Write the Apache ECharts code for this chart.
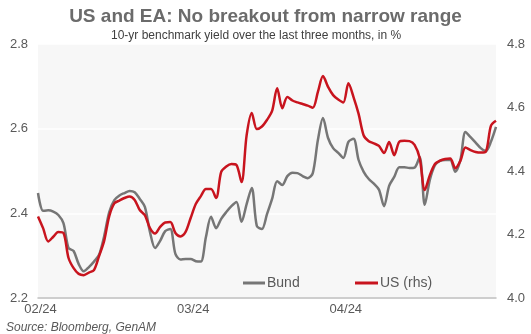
<!DOCTYPE html>
<html>
<head>
<meta charset="utf-8">
<script src="https://cdn.jsdelivr.net/npm/echarts@6/dist/echarts.min.js"></script>
<style>html,body{margin:0;padding:0;background:#fff;}#c{width:531px;height:334px;}</style>
</head>
<body>
<div id="c"></div>
<script>
// 91 daily observations, roughly Feb 1 to May 1 2024
const tickIndex = [0, 30, 60];
const tickLabels = ['02/24', '03/24', '04/24'];
const bund = [
  2.448, 2.406, 2.407, 2.404, 2.396, 2.377, 2.318, 2.311, 2.280, 2.263,
  2.273, 2.286, 2.302, 2.346, 2.403, 2.431, 2.442, 2.448, 2.453, 2.450,
  2.434, 2.415, 2.356, 2.318, 2.335, 2.358, 2.363, 2.304, 2.291, 2.292,
  2.292, 2.287, 2.286, 2.344, 2.392, 2.365, 2.387, 2.403, 2.417, 2.427,
  2.380, 2.422, 2.460, 2.370, 2.363, 2.398, 2.434, 2.476, 2.467, 2.488,
  2.496, 2.495, 2.488, 2.483, 2.495, 2.573, 2.625, 2.578, 2.554, 2.543,
  2.531, 2.569, 2.576, 2.526, 2.498, 2.481, 2.470, 2.456, 2.417, 2.465,
  2.486, 2.509, 2.509, 2.507, 2.508, 2.533, 2.420, 2.479, 2.514, 2.524,
  2.526, 2.526, 2.498, 2.526, 2.592, 2.580, 2.567, 2.554, 2.547, 2.569,
  2.604
];
const us = [
  4.257, 4.220, 4.178, 4.193, 4.208, 4.205, 4.126, 4.094, 4.076, 4.072,
  4.080, 4.088, 4.132, 4.180, 4.258, 4.298, 4.307, 4.315, 4.320, 4.309,
  4.277, 4.261, 4.220, 4.203, 4.224, 4.238, 4.239, 4.205, 4.194, 4.208,
  4.252, 4.296, 4.321, 4.343, 4.343, 4.315, 4.397, 4.414, 4.422, 4.419,
  4.365, 4.513, 4.583, 4.532, 4.540, 4.561, 4.589, 4.661, 4.598, 4.633,
  4.622, 4.616, 4.611, 4.606, 4.599, 4.649, 4.699, 4.665, 4.639, 4.625,
  4.616, 4.676, 4.633, 4.580, 4.512, 4.494, 4.487, 4.479, 4.457, 4.491,
  4.450, 4.492, 4.495, 4.494, 4.482, 4.441, 4.340, 4.387, 4.422, 4.433,
  4.438, 4.439, 4.409, 4.432, 4.474, 4.466, 4.460, 4.458, 4.461, 4.542,
  4.558
];
const categories = bund.map((_, i) => 'd' + i);
const labelMap = {};
tickIndex.forEach((k, j) => { labelMap[k] = tickLabels[j]; });

const chart = echarts.init(document.getElementById('c'), null, {renderer: 'canvas'});
const font = '"Liberation Sans", Arial, sans-serif';
const legendText = {fontFamily: font, fontSize: 14, color: '#595959', padding: [0, 0, 0, -3]};
chart.setOption({
  animation: false,
  backgroundColor: '#ffffff',
  title: [
    {text: 'US and EA: No breakout from narrow range', left: 'center', top: 2,
     textStyle: {fontFamily: font, fontSize: 19, fontWeight: 'bold', color: '#6b6b6b'}},
    {text: '10-yr benchmark yield over the last three months, in %', left: 106, top: 25,
     textStyle: {fontFamily: font, fontSize: 12, fontWeight: 'normal', color: '#404040'}},
    {text: 'Source: Bloomberg, GenAM', left: 1, top: 317,
     textStyle: {fontFamily: font, fontSize: 12, fontWeight: 'normal', fontStyle: 'italic', color: '#595959'}}
  ],
  legend: [
    {left: 243, top: 276, padding: 0, itemWidth: 22, itemHeight: 3, icon: 'rect',
     textStyle: legendText, data: ['Bund']},
    {left: 355, top: 276, padding: 0, itemWidth: 23, itemHeight: 3, icon: 'rect',
     textStyle: legendText, data: ['US (rhs)']}
  ],
  grid: {left: 38, right: 35, top: 44, bottom: 36, show: true,
         backgroundColor: '#f7f7f7', borderWidth: 0},
  xAxis: {
    type: 'category', data: categories, boundaryGap: false,
    axisLine: {show: true, lineStyle: {color: '#bfbfbf', width: 1.5}},
    axisTick: {show: false},
    axisLabel: {
      interval: (idx) => labelMap[idx] !== undefined,
      formatter: (v, idx) => labelMap[idx] || '',
      fontFamily: font, fontSize: 13, color: '#595959', margin: 5, padding: [0, 0, 0, 5]
    },
    splitLine: {show: false}
  },
  yAxis: [
    {type: 'value', min: 2.2, max: 2.8, interval: 0.2, position: 'left',
     axisLine: {show: false}, axisTick: {show: false},
     axisLabel: {fontFamily: font, fontSize: 13, color: '#595959', margin: 10,
                 formatter: v => v.toFixed(1)},
     splitLine: {show: true, lineStyle: {color: '#ffffff', width: 1.5}}},
    {type: 'value', min: 4.0, max: 4.8, interval: 0.2, position: 'right',
     axisLine: {show: false}, axisTick: {show: false},
     axisLabel: {fontFamily: font, fontSize: 13, color: '#595959', margin: 11,
                 formatter: v => v.toFixed(1)},
     splitLine: {show: false}}
  ],
  series: [
    {name: 'Bund', type: 'line', data: bund, yAxisIndex: 0, smooth: 0.3,
     showSymbol: false, symbol: 'none', lineStyle: {color: '#767676', width: 2.5},
     itemStyle: {color: '#767676'}},
    {name: 'US (rhs)', type: 'line', data: us, yAxisIndex: 1, smooth: 0.3,
     showSymbol: false, symbol: 'none', lineStyle: {color: '#c8141e', width: 2.5},
     itemStyle: {color: '#c8141e'}}
  ]
});
</script>
</body>
</html>
